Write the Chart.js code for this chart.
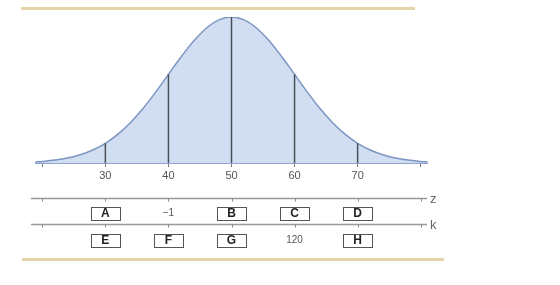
<!DOCTYPE html>
<html>
<head>
<meta charset="utf-8">
<script src="https://cdn.jsdelivr.net/npm/chart.js@4"></script>
<style>
  html, body { margin: 0; padding: 0; background: #fff; }
  #wrap { width: 560px; height: 285px; }
</style>
</head>
<body>
<div id="wrap"><canvas id="bellChart"></canvas></div>
<script>
// bell curve, height as % of peak
const curveX = [19, 20, 22, 24, 26, 28, 30, 32, 34, 36, 38, 40, 42, 44, 46, 48, 50,
                52, 54, 56, 58, 60, 62, 64, 66, 68, 70, 72, 74, 76, 78, 80, 81];
const curveY = [0.8, 1.1, 2.0, 3.4, 5.6, 8.9, 13.5, 19.8, 27.8, 37.5, 48.7, 60.7, 72.6, 83.5, 92.3, 98.0, 100,
                98.0, 92.3, 83.5, 72.6, 60.7, 48.7, 37.5, 27.8, 19.8, 13.5, 8.9, 5.6, 3.4, 2.0, 1.1, 0.8];

// vertical markers under the curve
const markX = [30, 40, 50, 60, 70];
const markY = [13.5, 60.7, 100, 60.7, 13.5];

// axis ticks and their labels
const tickValues = [20, 30, 40, 50, 60, 70, 80];
const mainLabels = ['', '30', '40', '50', '60', '70', ''];
const zLabels = ['', 'A', '\u22121', 'B', 'C', 'D', ''];
const kLabels = ['', 'E', 'F', 'G', '120', 'H', ''];

const FONT = "'Liberation Sans', Arial, sans-serif";

const markerSets = markX.map((x, i) => ({
    type: 'line',
    data: [{ x: x, y: 0 }, { x: x, y: markY[i] }],
    borderColor: '#4b5058',
    borderWidth: 1.5,
    pointRadius: 0,
    fill: false,
    order: 1
}));

// gold rules, z / k axes and boxed labels
const extraAxes = {
    id: 'extraAxes',
    beforeDraw(chart) {
        const ctx = chart.ctx;
        ctx.save();
        ctx.fillStyle = '#e3d4aa';
        ctx.fillRect(21, 7, 394, 3);
        ctx.fillRect(22, 258, 422, 3);
        ctx.restore();
    },
    afterDraw(chart) {
        const ctx = chart.ctx;
        const xs = chart.scales.x;
        const rows = [
            { lineY: 198.5, labelY: 213, name: 'z', labels: zLabels },
            { lineY: 224.5, labelY: 240, name: 'k', labels: kLabels }
        ];
        ctx.save();
        rows.forEach(row => {
            ctx.strokeStyle = '#999';
            ctx.lineWidth = 1.5;
            ctx.beginPath();
            ctx.moveTo(31, row.lineY);
            ctx.lineTo(427, row.lineY);
            ctx.stroke();
            ctx.lineWidth = 1;
            ctx.strokeStyle = '#888';
            tickValues.forEach(v => {
                const px = Math.round(xs.getPixelForValue(v)) + 0.5;
                ctx.beginPath();
                ctx.moveTo(px, row.lineY);
                ctx.lineTo(px, row.lineY + 3);
                ctx.stroke();
            });
            ctx.fillStyle = '#666';
            ctx.font = '13px ' + FONT;
            ctx.textAlign = 'left';
            ctx.textBaseline = 'middle';
            ctx.fillText(row.name, 430, row.lineY + 1);

            row.labels.forEach((lab, i) => {
                if (!lab) return;
                const px = xs.getPixelForValue(tickValues[i]);
                ctx.textAlign = 'center';
                ctx.textBaseline = 'middle';
                if (/^[A-Z]$/.test(lab)) {
                    ctx.strokeStyle = '#555';
                    ctx.lineWidth = 1;
                    ctx.fillStyle = '#fff';
                    const bx = Math.round(px - 14.5) + 0.5, by = Math.round(row.labelY - 6.5) + 0.5;
                    ctx.fillRect(bx, by, 29, 13);
                    ctx.strokeRect(bx, by, 29, 13);
                    ctx.fillStyle = '#222';
                    ctx.font = 'bold 12px ' + FONT;
                    ctx.fillText(lab, px, row.labelY + 0.5);
                } else {
                    ctx.fillStyle = '#555';
                    ctx.font = '10px ' + FONT;
                    ctx.fillText(lab, px, row.labelY);
                }
            });
        });
        ctx.restore();
    }
};

const ctx = document.getElementById('bellChart').getContext('2d');
const bellChart = new Chart(ctx, {
    type: 'line',
    data: {
        datasets: [{
            data: curveX.map((x, i) => ({ x: x, y: curveY[i] })),
            borderColor: '#7b96c2',
            backgroundColor: '#d1def2',
            borderWidth: 1.5,
            pointRadius: 0,
            tension: 0.4,
            fill: 'origin',
            order: 2
        }, ...markerSets]
    },
    options: {
        responsive: true,
        maintainAspectRatio: false,
        animation: false,
        layout: { padding: { top: 17, left: 36, right: 133, bottom: 102 } },
        plugins: {
            legend: { display: false },
            tooltip: { enabled: false }
        },
        scales: {
            x: {
                type: 'linear',
                min: 19,
                max: 81,
                afterBuildTicks: s => { s.ticks = tickValues.map(v => ({ value: v })); },
                afterFit: s => { s.height = 20; },
                grid: { drawOnChartArea: false, drawTicks: true, tickLength: 4, color: '#777' },
                border: { color: '#8ea6cc', width: 2 },
                ticks: {
                    autoSkip: false,
                    maxRotation: 0,
                    padding: 2,
                    color: '#555',
                    font: { family: FONT, size: 11 },
                    callback: v => mainLabels[tickValues.indexOf(v)]
                }
            },
            y: {
                display: false,
                min: 0,
                max: 100
            }
        }
    },
    plugins: [extraAxes]
});
</script>
</body>
</html>
